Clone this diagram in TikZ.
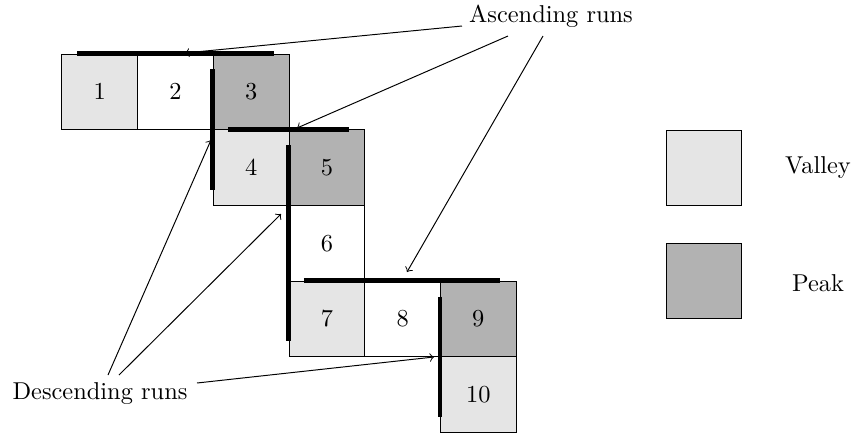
\documentclass[tikz,border=0pt]{standalone}
\begin{document}
\begin{tikzpicture}[x=0.01441cm,y=-0.01441cm,
  cell/.style={draw,line width=0.4pt,minimum size=1.091cm,inner sep=0pt,font=\normalsize},
  valley/.style={cell,fill=gray!20},
  peak/.style={cell,fill=gray!60},
  plain/.style={cell,fill=white},
  run/.style={line width=2pt},
  pointer/.style={->,line width=0.4pt},
  lbl/.style={inner sep=0pt}]
\useasboundingbox (0,0) rectangle (852,433);
% cells
\node[valley] (c1)  at (99.85,91.85) {1};
\node[plain]  (c2)  at (175.55,91.85) {2};
\node[peak]   (c3)  at (251.25,91.85) {3};
\node[valley] (c4)  at (251.25,167.55) {4};
\node[peak]   (c5)  at (326.95,167.55) {5};
\node[plain]  (c6)  at (326.95,243.25) {6};
\node[valley] (c7)  at (326.95,318.95) {7};
\node[plain]  (c8)  at (402.65,318.95) {8};
\node[peak]   (c9)  at (478.35,318.95) {9};
\node[valley] (c10) at (478.35,394.65) {10};
% legend
\node[valley] (lv) at (704,168) {};
\node[peak]   (lp) at (704,281) {};
\node[lbl] (tv) at (818,168) {Valley};
\node[lbl] (tp) at (818,283) {Peak};
% runs
\draw[run] ([xshift=0.23cm]c1.north west) -- ([xshift=-0.23cm]c3.north east);
\draw[run] ([xshift=0.22cm]c4.north west) -- ([xshift=-0.24cm]c5.north east);
\draw[run] ([xshift=0.22cm]c7.north west) -- ([xshift=-0.24cm]c9.north east);
\draw[run] ([yshift=-0.23cm]c3.north west) -- ([yshift=0.23cm]c4.south west);
\draw[run] ([yshift=-0.23cm]c5.north west) -- ([yshift=0.23cm]c7.south west);
\draw[run] ([yshift=-0.23cm]c9.north west) -- ([yshift=0.23cm]c10.south west);
% labels
\node[lbl] (asc) at (551,16) {Ascending runs};
\node[lbl] (desc) at (100,394) {Descending runs};
% pointer ends
\coordinate (a1s) at (462,26);
\coordinate (a2s) at (508,36);
\coordinate (a3s) at (543,36);
\coordinate (a1e) at (185,53);
\coordinate (a2e) at (297,128);
\coordinate (a3e) at (407,272);
\coordinate (d1s) at (108,375);
\coordinate (d2s) at (119,375);
\coordinate (d3s) at (197,383);
\coordinate (d1e) at (211,140);
\coordinate (d2e) at (281,214);
\coordinate (d3e) at (434,357);
\draw[pointer] (a1s) -- (a1e);
\draw[pointer] (a2s) -- (a2e);
\draw[pointer] (a3s) -- (a3e);
\draw[pointer] (d1s) -- (d1e);
\draw[pointer] (d2s) -- (d2e);
\draw[pointer] (d3s) -- (d3e);
\end{tikzpicture}
\end{document}
